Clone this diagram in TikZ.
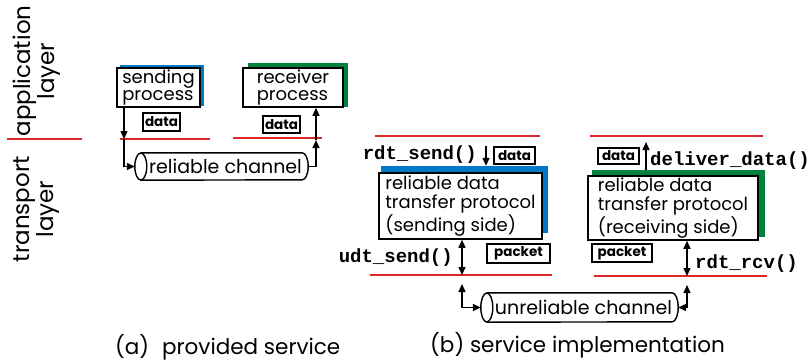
\documentclass[tikz,border=0pt]{standalone}
\usepackage{fontspec}
\setmainfont{Poppins}
\newfontfamily\monofont{Liberation Mono}
\usetikzlibrary{arrows.meta,calc}
\definecolor{kred}{RGB}{222,40,40}
\definecolor{kblue}{RGB}{0,120,200}
\definecolor{kgreen}{RGB}{0,130,60}
\begin{document}
\begin{tikzpicture}[x=1pt,y=-1pt,
  redline/.style={kred,line width=2.2pt},
  pbox/.style={draw,line width=1.6pt,fill=white,inner xsep=2pt,inner ysep=0pt,align=left,font=\fontsize{18}{17}\selectfont},
  shad/.style={inner sep=0pt},
  tag/.style={draw,line width=1.5pt,fill=white,inner sep=0pt,font=\bfseries\fontsize{13.5}{14}\selectfont},
  fn/.style={font=\monofont\bfseries\fontsize{19}{19}\selectfont,inner sep=0pt},
  lbl/.style={font=\fontsize{23}{24}\selectfont,rotate=90,align=center,inner sep=0pt},
  captxt/.style={font=\fontsize{21.5}{22}\selectfont,inner sep=0pt},
  chan/.style={inner sep=0pt,font=\fontsize{19}{19}\selectfont},
  tube/.style={line width=1.4pt},
  arr/.style={line width=1.3pt,-{Triangle[length=8pt,width=7pt]}},
  darr/.style={line width=1.3pt,{Triangle[length=8pt,width=7pt]}-{Triangle[length=8pt,width=7pt]}}
]
\useasboundingbox (0,0) rectangle (811,360);

% layer labels
\node[lbl] (applbl) at (37,71) {application\\layer};
\node[lbl] (translbl) at (37,209) {transport\\layer};
\draw[redline] (7,139) -- (82,139);

% ---------- (a) ----------
\node[shad,fill=kblue,minimum width=84pt,minimum height=41pt] (sendAsh) at (162,85.5) {};
\node[pbox,minimum width=83pt,minimum height=39pt] (sendA) at (158.5,87.5) {sending\\process};
\node[shad,fill=kgreen,minimum width=100pt,minimum height=44pt] (recvAsh) at (298,85) {};
\node[pbox,minimum width=100pt,minimum height=39pt] (recvA) at (293,87.5) {receiver\\process};
\node[tag,minimum width=37pt,minimum height=18pt] (dataA1) at (161.5,122) {data};
\node[tag,minimum width=37pt,minimum height=17pt] (dataA2) at (281.5,124.5) {data};
\draw[redline] (120,139) -- (210,139);
\draw[redline] (233,138) -- (322,138);

\node[chan,minimum width=173pt,minimum height=27pt] (chA) at (221.5,166.5) {\hspace{8pt}reliable channel};
\draw[tube] ($(chA.north west)+(6,0)$) -- ($(chA.north east)+(-6,0)$)
  arc[start angle=90,end angle=-90,x radius=6pt,y radius=13.5pt]
  -- ($(chA.south west)+(6,0)$);
\draw[tube] ($(chA.west)+(6,0)$) ellipse[x radius=6pt,y radius=13.5pt];

\coordinate (a1) at (124,139);
\draw[arr] (a1 |- sendA.south) -- (a1);
\draw[arr] (a1) |- (chA.west);
\coordinate (a2) at (316,140);
\draw[arr] (chA.east) -| (a2);
\draw[arr] (a2) -- (a2 |- recvA.south);

\node[captxt,anchor=base west] (capA) at (115,354) {(a)\hspace{0.6em}provided service};

% ---------- (b) ----------
\draw[redline] (375,136) -- (540,136);
\draw[redline] (370,275) -- (552,275);
\draw[redline] (590,136) -- (763,136);
\draw[redline] (594,276) -- (767,276);

\node[shad,fill=kblue,minimum width=167pt,minimum height=67pt] (sendBsh) at (464.5,199.5) {};
\node[pbox,minimum width=163pt,minimum height=66pt,font=\fontsize{18}{19}\selectfont] (sendB) at (460.5,206) {reliable data\\transfer protocol\\(sending side)};
\node[shad,fill=kgreen,minimum width=173pt,minimum height=67pt] (recvBsh) at (678.5,203.5) {};
\node[pbox,minimum width=170pt,minimum height=64pt,font=\fontsize{18}{19}\selectfont] (recvB) at (673,208) {reliable data\\transfer protocol\\(receiving side)};

\node[tag,minimum width=41pt,minimum height=17pt] (dataB1) at (514.5,155.5) {data};
\node[tag,minimum width=63pt,minimum height=19pt] (packetB1) at (518.5,253.5) {packet};
\node[tag,minimum width=41pt,minimum height=16pt] (dataB2) at (618.5,156) {data};
\node[tag,minimum width=60pt,minimum height=18pt] (packetB2) at (622,253) {packet};

\node[fn,anchor=base east] (rdtsend) at (477,159) {rdt\_send()};
\node[fn,anchor=base east] (udtsend) at (453,262) {udt\_send()};
\node[fn,anchor=base west] (deliver) at (650,165) {deliver\_data()};
\node[fn,anchor=base west] (rdtrcv) at (695,268) {rdt\_rcv()};

\node[chan,minimum width=197pt,minimum height=29pt] (chB) at (579.5,307.5) {\hspace{8pt}unreliable channel};
\draw[tube] ($(chB.north west)+(6,0)$) -- ($(chB.north east)+(-6,0)$)
  arc[start angle=90,end angle=-90,x radius=6pt,y radius=14.5pt]
  -- ($(chB.south west)+(6,0)$);
\draw[tube] ($(chB.west)+(6,0)$) ellipse[x radius=6pt,y radius=14.5pt];

\coordinate (b1) at (486,146);
\draw[arr] (b1) -- (b1 |- sendBsh.north);
\coordinate (b2) at (462,275);
\draw[darr] (b2 |- sendB.south) -- (b2);
\coordinate (b3) at (462,284);
\draw[darr] (b3) |- (chB.west);
\coordinate (b4) at (646,142);
\draw[arr] (b4 |- recvBsh.north) -- (b4);
\coordinate (b5) at (687,276);
\draw[darr] (b5 |- recvB.south) -- (b5);
\coordinate (b6) at (687,285);
\draw[darr] (b6) |- (chB.east);

\node[captxt,anchor=base west] (capB) at (430,352) {(b) service implementation};
\end{tikzpicture}
\end{document}
